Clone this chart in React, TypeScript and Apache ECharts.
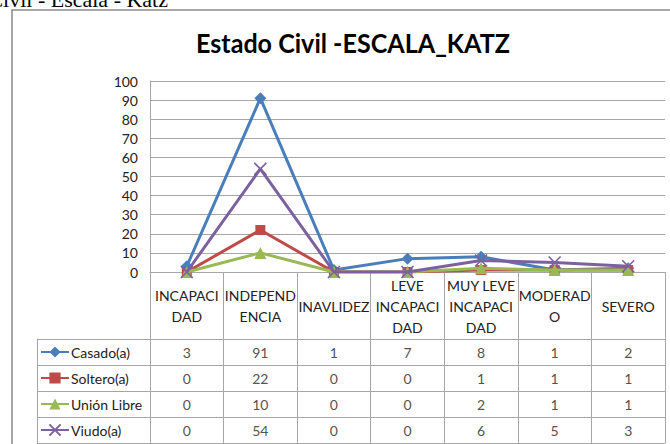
import { useEffect, useRef } from "react";
import * as echarts from "echarts";

const categories = [
  "INCAPACIDAD",
  "INDEPENDENCIA",
  "INAVLIDEZ",
  "LEVE INCAPACIDAD",
  "MUY LEVE INCAPACIDAD",
  "MODERADO",
  "SEVERO",
];
const categoryLabels = [
  "INCAPACI\nDAD",
  "INDEPEND\nENCIA",
  "INAVLIDEZ",
  "LEVE\nINCAPACI\nDAD",
  "MUY LEVE\nINCAPACI\nDAD",
  "MODERAD\nO",
  "SEVERO",
];
const seriesNames = ["Casado(a)", "Soltero(a)", "Unión Libre", "Viudo(a)"];
const casado = [3, 91, 1, 7, 8, 1, 2];
const soltero = [0, 22, 0, 0, 1, 1, 1];
const unionLibre = [0, 10, 0, 0, 2, 1, 1];
const viudo = [0, 54, 0, 0, 6, 5, 3];
const yMin = 0;
const yMax = 100;
const yStep = 10;

const chartTitle = "Estado Civil -ESCALA_KATZ";
const pageHeading = "Estado Civil - Escala - Katz";

const seriesValues = [casado, soltero, unionLibre, viudo];
const colors = ["#4A7EBB", "#BE4B48", "#98B954", "#7D60A0"];
const symbols = ["diamond", "rect", "triangle", "path://M0,0L10,10M10,0L0,10"];
const symbolSizes = [12, 10, 12, 12];

const FONT = "Lato";
const GRID_COLOR = "#A6A6A6";
const TEXT_COLOR = "#222";

export default function App() {
  const ref = useRef<HTMLDivElement>(null);

  useEffect(() => {
    if (!ref.current) return;
    const chart = echarts.init(ref.current, undefined, { renderer: "svg" });

    const lineSeries = seriesNames.map((name, i) => ({
      name,
      type: "line",
      xAxisIndex: 0,
      yAxisIndex: 0,
      data: seriesValues[i],
      symbol: symbols[i],
      symbolSize: symbolSizes[i],
      showAllSymbol: true,
      lineStyle: { color: colors[i], width: 3 },
      itemStyle:
        i === 3
          ? { color: colors[i], borderColor: colors[i], borderWidth: 1.6 }
          : { color: colors[i] },
      z: 2 + i,
    }));

    const tableData: any[] = [];
    seriesValues.forEach((vals, r) => {
      vals.forEach((v, c) => tableData.push([c, r, v]));
    });

    chart.setOption({
      animation: false,
      backgroundColor: "#fff",
      textStyle: { fontFamily: FONT },
      graphic: [
        {
          type: "rect",
          shape: { x: 12, y: 10, width: 700, height: 480 },
          style: { fill: "none", stroke: "#8A8A8A", lineWidth: 1.5 },
          silent: true,
        },
        {
          type: "text",
          x: 168,
          y: 10,
          style: {
            text: pageHeading,
            textAlign: "right",
            textVerticalAlign: "bottom",
            font: "22px 'Liberation Serif', serif",
            fill: "#000",
          },
          silent: true,
        },
        {
          type: "text",
          x: 353,
          y: 43,
          scaleX: 0.93,
          style: {
            text: chartTitle,
            textAlign: "center",
            textVerticalAlign: "middle",
            font: `bold 27px ${FONT}`,
            fill: "#000",
          },
          silent: true,
        },
      ],
      legend: {
        orient: "vertical",
        left: 40,
        top: 345,
        padding: 0,
        itemWidth: 28,
        itemHeight: 14,
        itemGap: 12,
        data: seriesNames,
        selectedMode: false,
        textStyle: {
          fontSize: 14,
          lineHeight: 14,
          fontFamily: FONT,
          color: TEXT_COLOR,
          padding: [0, 0, 0, -3],
        },
      },
      grid: [
        { left: 150, right: 5, top: 81, bottom: 172 },
        { left: 150, right: 5, top: 339, bottom: 1 },
      ],
      xAxis: [
        {
          type: "category",
          gridIndex: 0,
          data: categories,
          boundaryGap: true,
          axisLine: { show: true, lineStyle: { color: GRID_COLOR, width: 1 } },
          axisTick: {
            show: true,
            interval: 0,
            length: 67,
            lineStyle: { color: GRID_COLOR, width: 1 },
          },
          axisLabel: {
            interval: 0,
            margin: 34,
            verticalAlign: "middle",
            lineHeight: 21,
            fontSize: 14,
            fontFamily: FONT,
            color: TEXT_COLOR,
            formatter: (_v: string, idx: number) => categoryLabels[idx],
          },
          splitLine: { show: false },
        },
        {
          type: "category",
          gridIndex: 1,
          data: categories,
          boundaryGap: true,
          axisLine: { show: true, lineStyle: { color: GRID_COLOR, width: 1 } },
          axisTick: { show: false },
          axisLabel: { show: false },
          splitLine: { show: true, interval: 0, lineStyle: { color: GRID_COLOR, width: 1 } },
        },
      ],
      yAxis: [
        {
          type: "value",
          gridIndex: 0,
          min: yMin,
          max: yMax,
          interval: yStep,
          axisLine: { show: true, lineStyle: { color: GRID_COLOR, width: 1 } },
          axisTick: { show: false },
          axisLabel: { fontSize: 14, fontFamily: FONT, color: TEXT_COLOR, margin: 12 },
          splitLine: { show: true, lineStyle: { color: GRID_COLOR, width: 1 } },
        },
        {
          type: "category",
          gridIndex: 1,
          data: seriesNames,
          inverse: true,
          boundaryGap: true,
          axisLine: { show: true, lineStyle: { color: GRID_COLOR, width: 1 } },
          axisTick: {
            show: true,
            interval: 0,
            length: 113,
            lineStyle: { color: GRID_COLOR, width: 1 },
          },
          axisLabel: { show: false },
          splitLine: { show: true, interval: 0, lineStyle: { color: GRID_COLOR, width: 1 } },
        },
        {
          type: "category",
          gridIndex: 1,
          data: seriesNames,
          inverse: true,
          position: "left",
          offset: 113,
          axisLine: { show: true, lineStyle: { color: GRID_COLOR, width: 1 } },
          axisTick: { show: false },
          axisLabel: { show: false },
          splitLine: { show: false },
        },
      ],
      series: [
        ...lineSeries,
        {
          name: "tabla",
          type: "scatter",
          xAxisIndex: 1,
          yAxisIndex: 1,
          data: tableData,
          symbolSize: 1,
          silent: true,
          itemStyle: { color: "transparent" },
          label: {
            show: true,
            position: "inside",
            fontSize: 14,
            fontFamily: FONT,
            color: TEXT_COLOR,
            formatter: (p: any) => String(p.value[2]),
          },
        },
      ],
    });

    return () => chart.dispose();
  }, []);

  return (
    <div
      ref={ref}
      style={{ position: "fixed", left: 0, top: 0, width: 670, height: 444 }}
    />
  );
}
